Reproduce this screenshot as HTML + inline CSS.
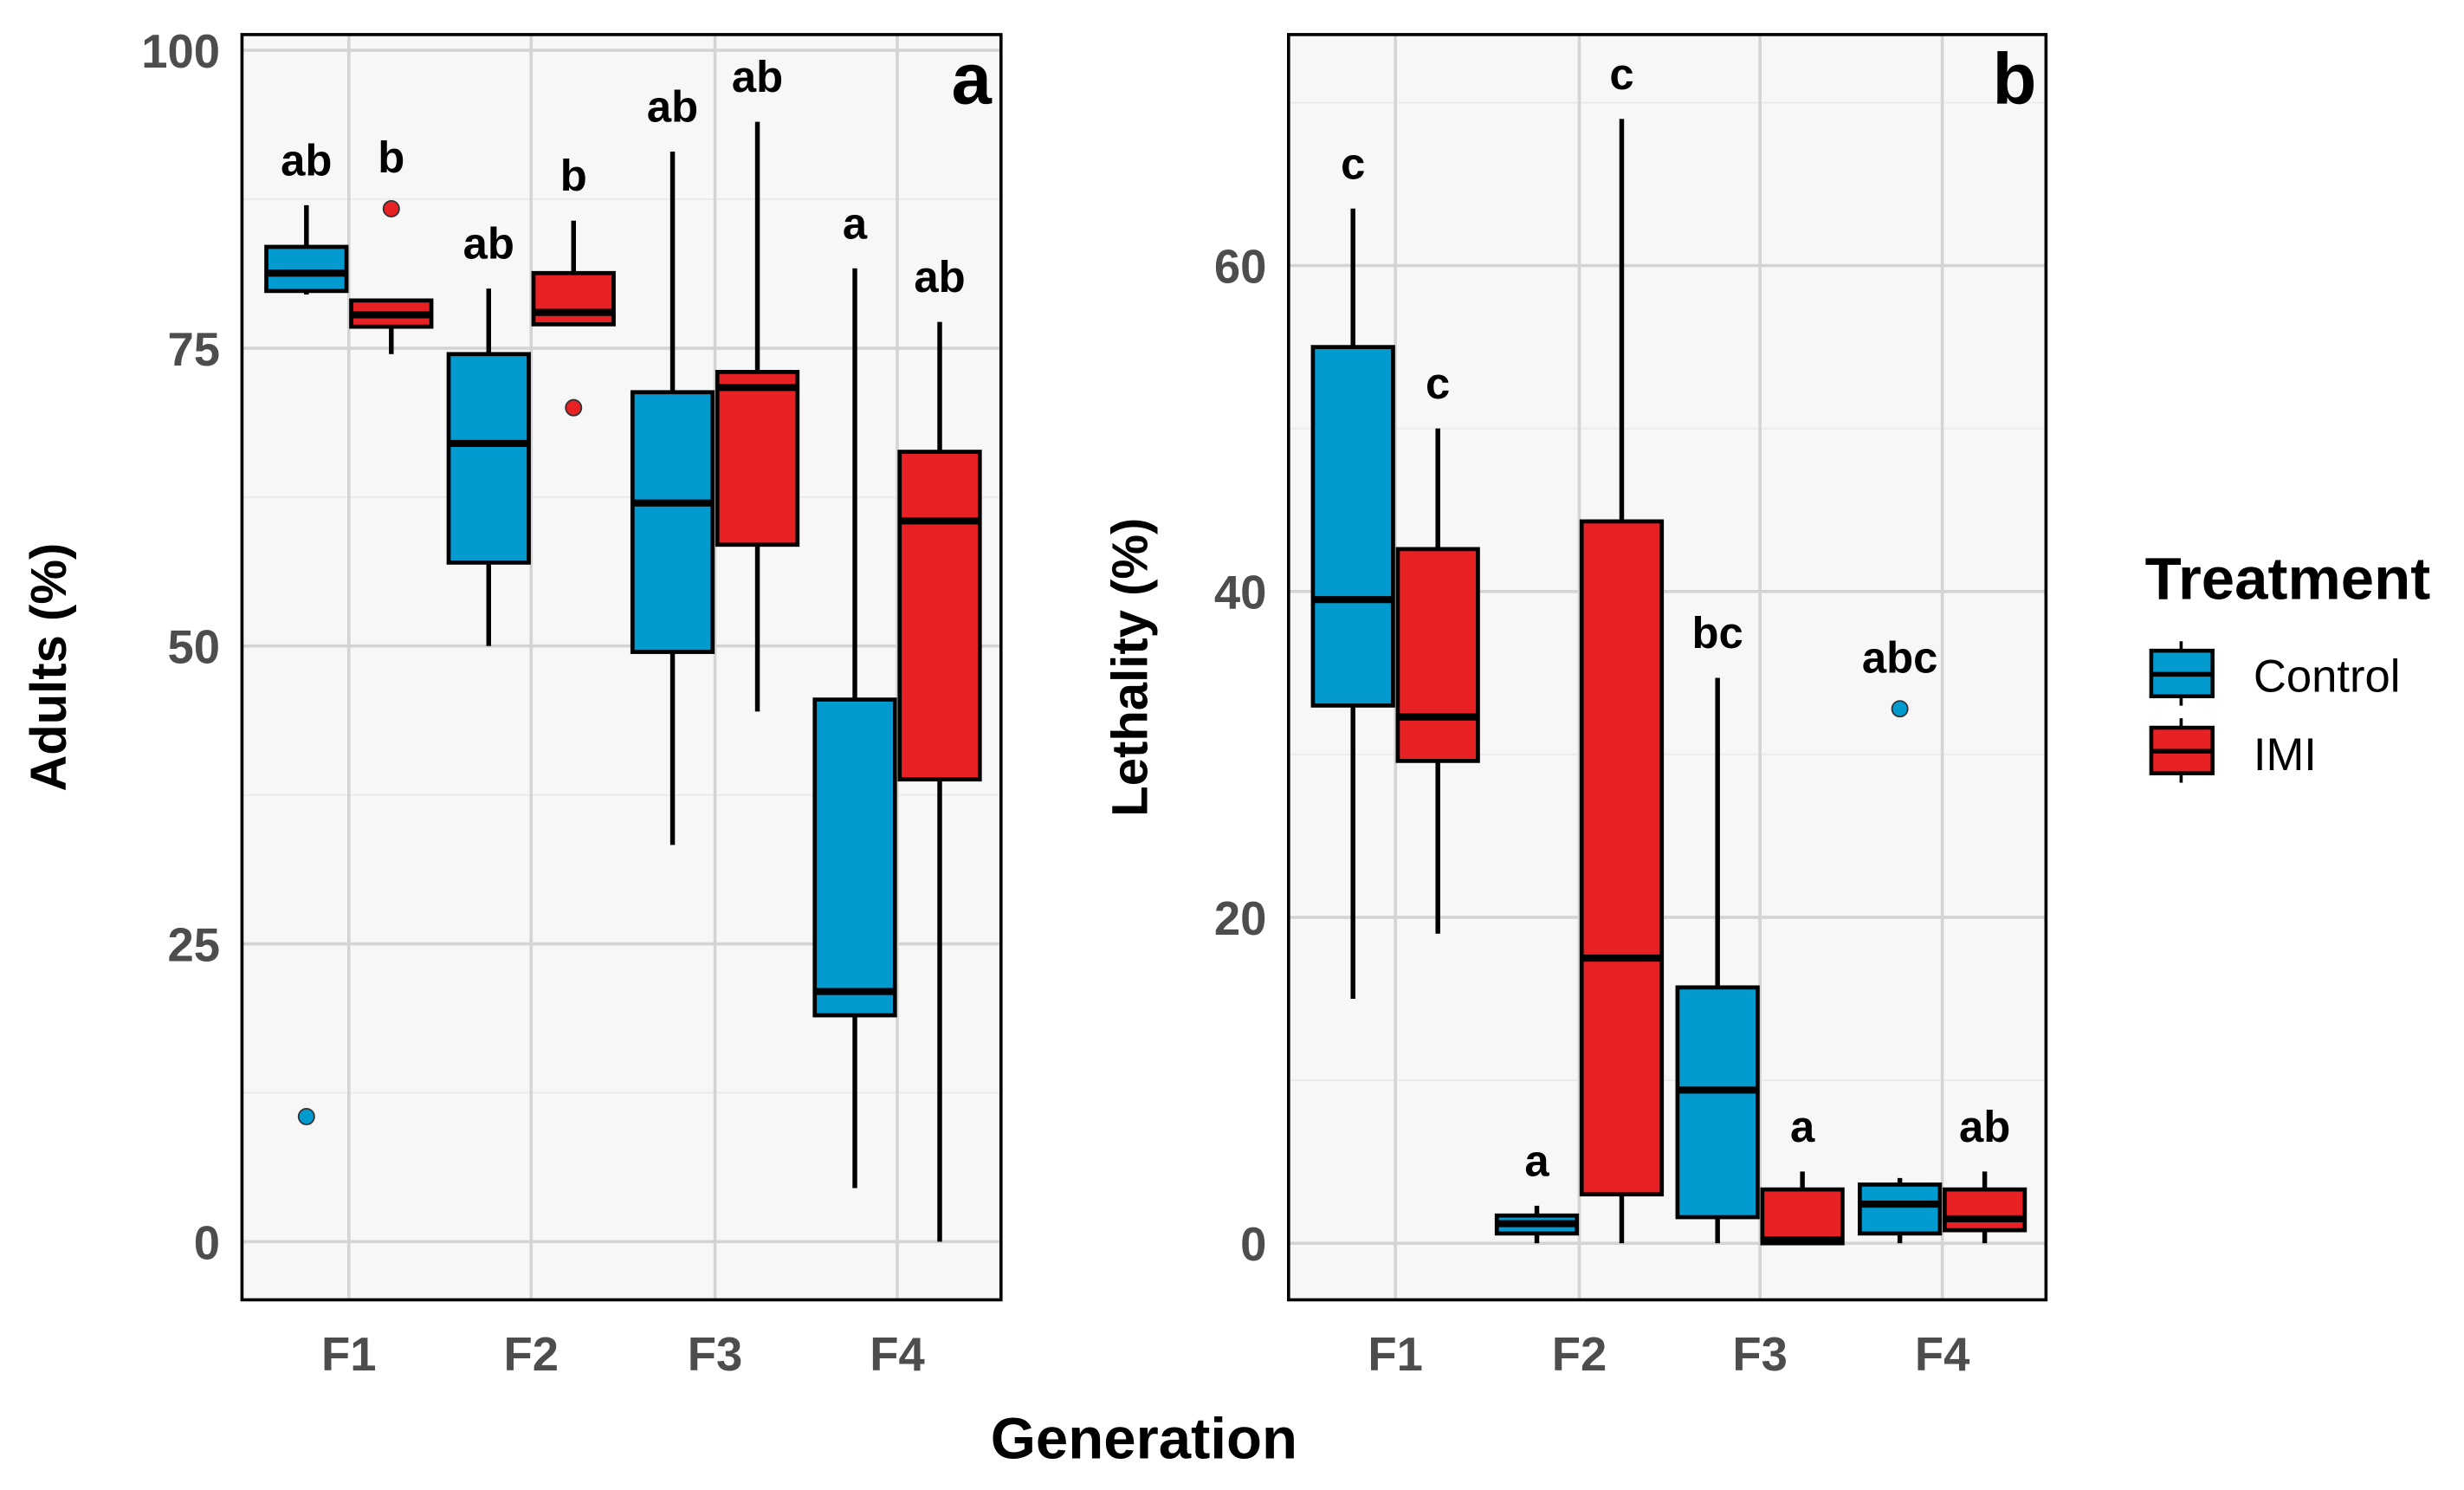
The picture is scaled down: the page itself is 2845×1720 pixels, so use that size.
<!DOCTYPE html>
<html><head><meta charset="utf-8"><style>
html,body{margin:0;padding:0;background:#fff;}
svg{display:block;font-family:"Liberation Sans",sans-serif;}
</style></head><body>
<svg id="chart" width="2845" height="1720" viewBox="0 0 1568 948" preserveAspectRatio="none" xmlns="http://www.w3.org/2000/svg">
<g id="pa"></g>
<g id="pb"></g>
<text x="728" y="928" font-size="37" font-weight="bold" text-anchor="middle">Generation</text>
<g>
<text x="1365" y="381" font-size="38" font-weight="bold">Treatment</text>
<g>
<line x1="1388" y1="408" x2="1388" y2="449" stroke="#000" stroke-width="2"/>
<rect x="1369" y="414" width="39" height="29" fill="#029ACF" stroke="#000" stroke-width="2.5"/>
<line x1="1369" y1="429" x2="1408" y2="429" stroke="#000" stroke-width="3"/>
<text x="1434" y="440" font-size="29">Control</text></g>
<g>
<line x1="1388" y1="457" x2="1388" y2="498" stroke="#000" stroke-width="2"/>
<rect x="1369" y="463" width="39" height="29" fill="#E82125" stroke="#000" stroke-width="2.5"/>
<line x1="1369" y1="478" x2="1408" y2="478" stroke="#000" stroke-width="3"/>
<text x="1434" y="490" font-size="29">IMI</text></g>
</g>
</svg>
<script>
const categories = ["F1","F2","F3","F4"];
const treatments = ["Control","IMI"];
// [whiskerLow, Q1, median, Q3, whiskerHigh]
const adultsControl = [[79.5,79.8,81.3,83.5,87],[50,57,67,74.5,80],[33.3,49.5,62,71.3,91.5],[4.5,19,21,45.5,81.7]];
const adultsIMI = [[74.5,76.8,77.8,79,79],[77,77,78,81.3,85.7],[44.5,58.5,71.7,73,94],[0,38.8,60.5,66.3,77.2]];
const adultsOutControl = [[10.5],[],[],[]];
const adultsOutIMI = [[86.7],[70],[],[]];
const adultsLettersControl = ["ab","ab","ab","a"];
const adultsLettersIMI = ["b","b","ab","ab"];
const adultsTicks = [0,25,50,75,100];
const lethControl = [[15,33,39.5,55,63.5],[0,0.6,1.2,1.7,2.3],[0,1.6,9.4,15.7,34.7],[0,0.6,2.4,3.6,4]];
const lethIMI = [[19,29.6,32.3,42.6,50],[0,3,17.5,44.3,69],[0,0,0.2,3.3,4.4],[0,0.8,1.5,3.3,4.4]];
const lethOutControl = [[],[],[],[32.8]];
const lethOutIMI = [[],[],[],[]];
const lethLettersControl = ["c","a","bc","abc"];
const lethLettersIMI = ["c","c","a","ab"];
const lethTicks = [0,20,40,60];

const NS="http://www.w3.org/2000/svg";
const COL={Control:"#029ACF",IMI:"#E82125"};
function mk(parent,tag,attrs,txt){const e=document.createElementNS(NS,tag);for(const k in attrs)e.setAttribute(k,attrs[k]);if(txt!==undefined)e.textContent=txt;parent.appendChild(e);return e;}

function panel(g,cfg){
  const {L,R,T,B,y0px,perUnit,xs,ticks,minor,ctrl,imi,outC,outI,letC,letI,title,tag,tagFont}=cfg;
  const y=v=>y0px-v*perUnit;
  const bg=mk(g,"rect",{x:L,y:T,width:R-L,height:B-T,fill:"#F7F7F7"});
  
  
  minor.forEach(v=>mk(g,"line",{x1:L,x2:R,y1:y(v),y2:y(v),stroke:"#EAEAEA","stroke-width":1}));
  ticks.forEach(v=>{
    mk(g,"line",{x1:L,x2:R,y1:y(v),y2:y(v),stroke:"#D4D4D4","stroke-width":2});
    const t=mk(g,"text",{x:L-14,y:y(v)+11,"font-size":30,"font-weight":"bold",fill:"#4D4D4D","text-anchor":"end"},String(v));
    
    
  });
  categories.forEach((c,i)=>{
    mk(g,"line",{x1:xs[i],x2:xs[i],y1:T,y2:B,stroke:"#D4D4D4","stroke-width":2});
    const t=mk(g,"text",{x:xs[i],y:B+45,"font-size":30,"font-weight":"bold",fill:"#4D4D4D","text-anchor":"middle"},c);
    
    
  });
  const sets=[[ctrl,outC,letC,"Control",-27],[imi,outI,letI,"IMI",27]];
  sets.forEach(([data,outs,lets,tr,off])=>{
    data.forEach((d,i)=>{
      const cx=xs[i]+off,w=51;
      const bx=mk(g,"g",{});
      
      
      mk(bx,"line",{x1:cx,x2:cx,y1:y(d[0]),y2:y(d[4]),stroke:"#000","stroke-width":3});
      mk(bx,"rect",{x:cx-w/2,y:y(d[3]),width:w,height:Math.max(y(d[1])-y(d[3]),0.5),fill:COL[tr],stroke:"#000","stroke-width":2.6});
      mk(bx,"line",{x1:cx-w/2,x2:cx+w/2,y1:y(d[2]),y2:y(d[2]),stroke:"#000","stroke-width":4.5});
      let top=y(d[4]);
      outs[i].forEach(o=>{
        const p=mk(bx,"circle",{cx:cx,cy:y(o),r:5,fill:COL[tr],stroke:"#333","stroke-width":1});
        
        
        top=Math.min(top,y(o)-4);
      });
      const lt=mk(g,"text",{x:cx,y:top-19,"font-size":28,"font-weight":"bold","text-anchor":"middle"},lets[i]);
      
      
    });
  });
  mk(g,"rect",{x:L,y:T,width:R-L,height:B-T,fill:"none",stroke:"#000","stroke-width":2});
  const tg=mk(g,"text",{x:R-6,y:T+44,"font-size":tagFont,"font-weight":"bold","text-anchor":"end"},tag);
  
  
  const cy=(T+B)/2;
  const yt=mk(g,"text",{x:0,y:0,"font-size":32,"font-weight":"bold","text-anchor":"middle",transform:`translate(${cfg.titleX},${cy}) rotate(-90)`},title);
  
  
}
panel(document.getElementById('pa'),{L:154,R:637,T:22,B:827,y0px:790,perUnit:7.58,xs:[222,338,455,571],ticks:adultsTicks,minor:[12.5,37.5,62.5,87.5],ctrl:adultsControl,imi:adultsIMI,outC:adultsOutControl,outI:adultsOutIMI,letC:adultsLettersControl,letI:adultsLettersIMI,title:"Adults (%)",titleX:42,tag:"a",tagFont:46});
panel(document.getElementById('pb'),{L:820,R:1302,T:22,B:827,y0px:791,perUnit:10.367,xs:[888,1005,1120,1236],ticks:lethTicks,minor:[10,30,50,70],ctrl:lethControl,imi:lethIMI,outC:lethOutControl,outI:lethOutIMI,letC:lethLettersControl,letI:lethLettersIMI,title:"Lethality (%)",titleX:730,tag:"b",tagFont:46});
</script>
</body></html>
